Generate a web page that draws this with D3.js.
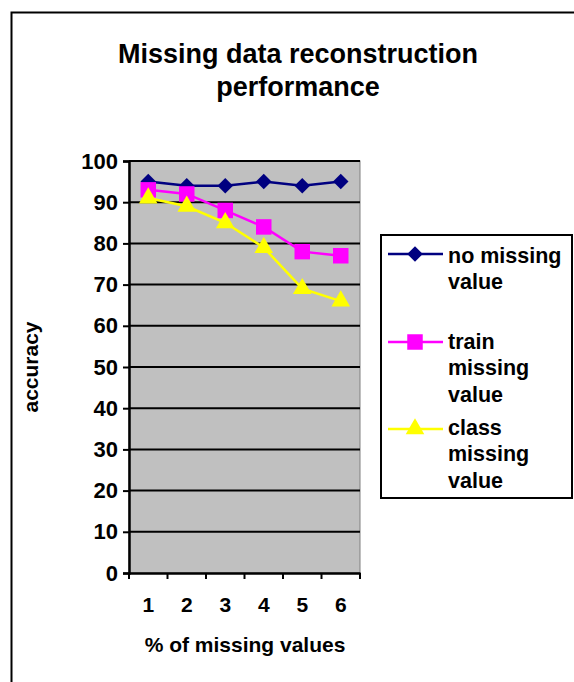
<!DOCTYPE html>
<html><head><meta charset="utf-8">
<script src="https://cdn.jsdelivr.net/npm/d3@7"></script>
<style>body{margin:0;background:#fff}svg{display:block;font-family:"Liberation Sans",Arial,sans-serif;font-weight:bold}</style>
</head><body>
<script>
const categories = ["1","2","3","4","5","6"];
const noMissing = [95, 94, 94, 95, 94, 95];
const trainMissing = [93, 92, 88, 84, 78, 77];
const classMissing = [91, 89, 85, 79, 69, 66];
const yTicks = [0,10,20,30,40,50,60,70,80,90,100];
const seriesNames = [["no missing","value"],["train","missing","value"],["class","missing","value"]];

const W=574,H=682;
const FONT="Liberation Sans, Arial, sans-serif";
const svg=d3.select("body").append("svg").attr("width",W).attr("height",H);
svg.append("rect").attr("x",11.5).attr("y",12.5).attr("width",W).attr("height",H).attr("fill","#fff").attr("stroke","#000").attr("stroke-width",2);

const L=129,R=360,T=161,B=573;
const x=d3.scaleBand().domain(categories).range([L,R]);
const y=d3.scaleLinear().domain([0,100]).range([B,T]);

svg.append("rect").attr("x",L).attr("y",T).attr("width",R-L).attr("height",B-T).attr("fill","#C0C0C0").attr("stroke","#808080").attr("stroke-width",1);
svg.append("g").selectAll("line").data(yTicks.filter(d=>d>0)).join("line")
  .attr("x1",L).attr("x2",R).attr("y1",d=>y(d)).attr("y2",d=>y(d)).attr("stroke","#000").attr("stroke-width",2);

const ya=svg.append("g").attr("transform",`translate(${L},0)`).call(d3.axisLeft(y).tickValues(yTicks).tickSize(6).tickPadding(5));
ya.select(".domain").attr("stroke-width",2.5);
ya.selectAll(".tick line").attr("stroke-width",2);
ya.selectAll("text").attr("font-size",22).attr("font-weight","bold").attr("font-family",FONT).attr("fill","#000");

const xa=svg.append("g").attr("transform",`translate(0,${B})`).call(d3.axisBottom(x).tickSize(0).tickPadding(24));
xa.select(".domain").attr("stroke-width",2.5);
xa.selectAll("text").attr("font-size",21).attr("font-weight","bold").attr("font-family",FONT).attr("fill","#000");
svg.append("g").selectAll("line").data(d3.range(categories.length+1)).join("line")
  .attr("x1",i=>L+i*x.step()).attr("x2",i=>L+i*x.step()).attr("y1",B).attr("y2",B+6).attr("stroke","#000").attr("stroke-width",2);

const diamond={draw(ctx,size){const r=Math.sqrt(size/2);ctx.moveTo(0,-r);ctx.lineTo(r,0);ctx.lineTo(0,r);ctx.lineTo(-r,0);ctx.closePath();}};
const series=[
 {vals:noMissing,color:"#000080",sym:diamond,size:120},
 {vals:trainMissing,color:"#FF00FF",sym:d3.symbolSquare,size:240},
 {vals:classMissing,color:"#FFFF00",sym:d3.symbolTriangle,size:150}
];
const cx=c=>x(c)+x.bandwidth()/2;
series.forEach(s=>{
  const line=d3.line().x((d,i)=>cx(categories[i])).y(d=>y(d));
  svg.append("path").attr("d",line(s.vals)).attr("fill","none").attr("stroke",s.color).attr("stroke-width",2.5);
  svg.append("g").selectAll("path").data(s.vals).join("path")
    .attr("transform",(d,i)=>`translate(${cx(categories[i])},${y(d)})`)
    .attr("d",d3.symbol().type(s.sym).size(s.size)).attr("fill",s.color);
});

svg.append("text").attr("x",298).attr("y",63).attr("text-anchor","middle").attr("font-size",27).text("Missing data reconstruction");
svg.append("text").attr("x",298).attr("y",96).attr("text-anchor","middle").attr("font-size",27).text("performance");
svg.append("text").attr("x",245).attr("y",652).attr("text-anchor","middle").attr("font-size",21).text("% of missing values");
svg.append("text").attr("transform","translate(38,367) rotate(-90)").attr("text-anchor","middle").attr("font-size",21).text("accuracy");

// legend
svg.append("rect").attr("x",381).attr("y",235).attr("width",191).attr("height",263).attr("fill","#fff").attr("stroke","#000").attr("stroke-width",2);
const legLineY=[254,342,429];
const legTextY=[263,349,435];
series.forEach((s,k)=>{
  const ly=legLineY[k];
  svg.append("line").attr("x1",388).attr("x2",443).attr("y1",ly).attr("y2",ly).attr("stroke",s.color).attr("stroke-width",2.5);
  svg.append("path").attr("transform",`translate(415,${ly})`).attr("d",d3.symbol().type(s.sym).size(s.size)).attr("fill",s.color);
  seriesNames[k].forEach((t,j)=>{
    svg.append("text").attr("x",448).attr("y",legTextY[k]+j*26.3).attr("font-size",21.5).text(t);
  });
});
</script>
</body></html>
